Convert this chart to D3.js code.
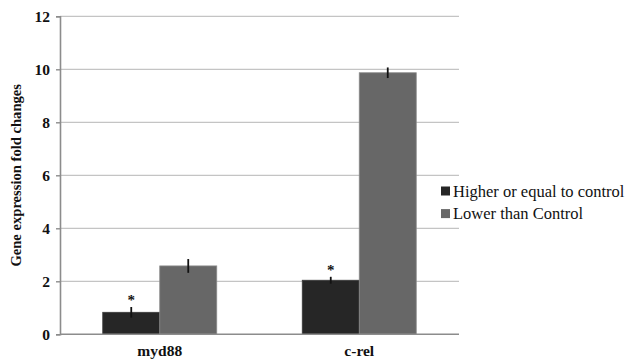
<!DOCTYPE html>
<html>
<head>
<meta charset="utf-8">
<script src="https://cdn.jsdelivr.net/npm/d3@7"></script>
<style>
  html, body { margin: 0; padding: 0; background: #fff; }
  svg { display: block; }
</style>
</head>
<body>
<svg id="chart" width="629" height="362"></svg>
<script>
// Genes on the x axis
const categories = ["myd88", "c-rel"];
// Series names and fold-change means
const seriesNames = ["Higher or equal to control", "Lower than Control"];
const higherValues = [0.83, 2.04];
const lowerValues = [2.58, 9.87];
// Standard errors for each bar
const higherErrors = [0.2, 0.13];
const lowerErrors = [0.26, 0.2];
// Significance markers on the first series
const higherMarks = ["*", "*"];
const yTicks = [0, 2, 4, 6, 8, 10, 12];

const seriesColors = ["#262626", "#676767"];
const serif = "Liberation Serif, Times New Roman, serif";

const svg = d3.select("#chart");
const plot = { left: 60, right: 459, top: 16.3, bottom: 334.3 };

const x = d3.scaleBand()
  .domain(categories)
  .range([plot.left, plot.right])
  .paddingInner(0.4286)
  .paddingOuter(0.2143);

const x1 = d3.scaleBand()
  .domain([0, 1])
  .range([0, x.bandwidth()]);

const y = d3.scaleLinear()
  .domain([0, 12])
  .range([plot.bottom, plot.top]);

// Horizontal gridlines
svg.append("g")
  .selectAll("line")
  .data(yTicks.filter(d => d > 0))
  .join("line")
  .attr("x1", plot.left)
  .attr("x2", plot.right)
  .attr("y1", d => y(d))
  .attr("y2", d => y(d))
  .attr("stroke", "#c4c4c4")
  .attr("stroke-width", 1.2);

// Bars
const rows = categories.map((c, i) => ({
  cat: c,
  bars: [
    { s: 0, v: higherValues[i], e: higherErrors[i], mark: higherMarks[i] },
    { s: 1, v: lowerValues[i], e: lowerErrors[i], mark: "" }
  ]
}));

const groups = svg.append("g")
  .selectAll("g")
  .data(rows)
  .join("g")
  .attr("transform", d => `translate(${x(d.cat)},0)`);

groups.selectAll("rect")
  .data(d => d.bars)
  .join("rect")
  .attr("x", d => x1(d.s))
  .attr("y", d => y(d.v))
  .attr("width", x1.bandwidth())
  .attr("height", d => y(0) - y(d.v))
  .attr("fill", d => seriesColors[d.s])
  .attr("stroke", d => d.s === 1 ? "#8a8a8a" : "#3a3a3a")
  .attr("stroke-width", 0.8);

// Error bars
groups.selectAll("line.err")
  .data(d => d.bars)
  .join("line")
  .attr("class", "err")
  .attr("x1", d => x1(d.s) + x1.bandwidth() / 2)
  .attr("x2", d => x1(d.s) + x1.bandwidth() / 2)
  .attr("y1", d => y(d.v + d.e))
  .attr("y2", d => y(d.v - d.e))
  .attr("stroke", "#111")
  .attr("stroke-width", 1.8);

// Significance stars
groups.selectAll("text.star")
  .data(d => d.bars.filter(b => b.mark))
  .join("text")
  .attr("class", "star")
  .attr("x", d => x1(d.s) + x1.bandwidth() / 2)
  .attr("y", d => y(d.v + d.e) - 2)
  .attr("text-anchor", "middle")
  .attr("font-family", serif)
  .attr("font-weight", "bold")
  .attr("font-size", 15)
  .attr("fill", "#111")
  .text(d => d.mark);

// Y axis
const yAxis = svg.append("g")
  .attr("transform", `translate(${plot.left},0)`)
  .call(d3.axisLeft(y).tickValues(yTicks).tickSize(4).tickPadding(6).tickFormat(d3.format("d")));
yAxis.select(".domain").attr("stroke", "#8c8c8c").attr("stroke-width", 1.6);
yAxis.selectAll(".tick line").attr("stroke", "#8c8c8c").attr("stroke-width", 1.4);
yAxis.selectAll(".tick text")
  .attr("font-family", serif)
  .attr("font-weight", "bold")
  .attr("font-size", 15.5)
  .attr("fill", "#111");

// X axis
const xAxis = svg.append("g")
  .attr("transform", `translate(0,${plot.bottom})`)
  .call(d3.axisBottom(x).tickSize(0).tickPadding(11));
xAxis.select(".domain")
  .attr("d", `M${plot.left},0H${plot.right}`)
  .attr("stroke", "#8c8c8c")
  .attr("stroke-width", 1.6);
xAxis.selectAll(".tick text")
  .attr("font-family", serif)
  .attr("font-weight", "bold")
  .attr("font-size", 15.5)
  .attr("fill", "#111");

// Y axis title
svg.append("text")
  .attr("transform", `translate(18,${(plot.top + plot.bottom) / 2}) rotate(-90)`)
  .attr("text-anchor", "middle")
  .attr("dominant-baseline", "middle")
  .attr("font-family", serif)
  .attr("font-weight", "bold")
  .attr("font-size", 14.6)
  .attr("fill", "#111")
  .text("Gene expression fold changes");

// Legend
const legend = svg.append("g")
  .attr("transform", "translate(441,191)")
  .selectAll("g")
  .data(seriesNames)
  .join("g")
  .attr("transform", (d, i) => `translate(0,${i * 22.6})`);
legend.append("rect")
  .attr("x", 0)
  .attr("y", -4.5)
  .attr("width", 9)
  .attr("height", 9)
  .attr("fill", (d, i) => seriesColors[i]);
legend.append("text")
  .attr("x", 12)
  .attr("y", 0)
  .attr("dominant-baseline", "central")
  .attr("font-family", serif)
  .attr("font-size", 16.5)
  .attr("fill", "#111")
  .text(d => d);
</script>
</body>
</html>
